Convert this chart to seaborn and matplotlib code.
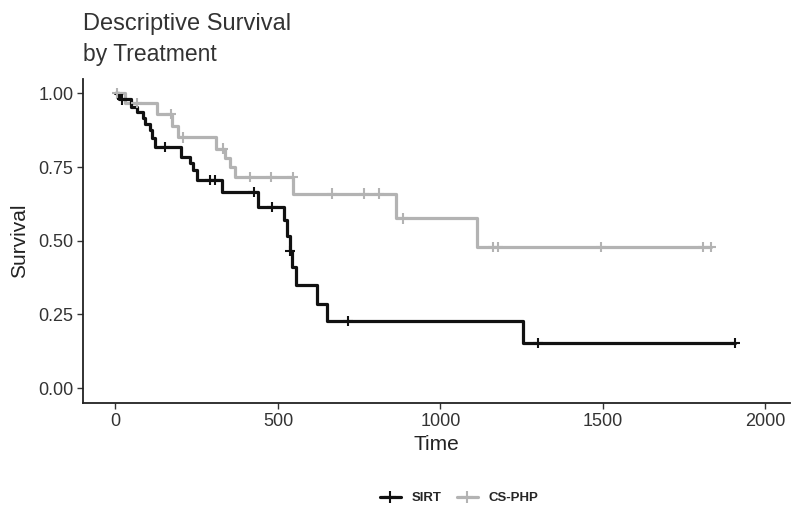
import pandas as pd
import seaborn as sns
import matplotlib.pyplot as plt
from matplotlib.lines import Line2D

# Kaplan-Meier step values
sirt_time = [0, 12, 48, 66, 84, 92, 106, 113, 122, 203, 228, 240, 250, 328, 438, 520, 529, 536, 544, 556, 621, 651, 1255, 1907]
sirt_surv = [1.00, 0.980, 0.955, 0.937, 0.918, 0.897, 0.876, 0.848, 0.818, 0.784, 0.764, 0.740, 0.706, 0.666, 0.615, 0.570, 0.516, 0.465, 0.410, 0.350, 0.287, 0.228, 0.154, 0.154]
sirt_cens_time = [20, 152, 290, 305, 425, 483, 538, 716, 1301, 1907]
sirt_cens_surv = [0.980, 0.818, 0.706, 0.706, 0.666, 0.615, 0.465, 0.228, 0.154, 0.154]

cs_time = [0, 30, 128, 174, 192, 308, 337, 352, 367, 547, 863, 1111, 1833]
cs_surv = [1.00, 0.968, 0.930, 0.890, 0.851, 0.813, 0.780, 0.750, 0.717, 0.660, 0.576, 0.479, 0.479]
cs_cens_time = [5, 65, 170, 207, 330, 413, 480, 545, 667, 765, 811, 884, 1163, 1176, 1493, 1809, 1833]
cs_cens_surv = [1.00, 0.968, 0.930, 0.851, 0.813, 0.717, 0.717, 0.717, 0.660, 0.660, 0.660, 0.576, 0.479, 0.479, 0.479, 0.479, 0.479]

groups = ["SIRT", "CS-PHP"]
colors = {"SIRT": "#111111", "CS-PHP": "#b3b3b3"}

x_ticks = [0, 500, 1000, 1500, 2000]
y_ticks = [0.0, 0.25, 0.5, 0.75, 1.0]
y_tick_labels = ["0.00", "0.25", "0.50", "0.75", "1.00"]

curves = pd.concat([
    pd.DataFrame({"Time": cs_time, "Survival": cs_surv, "Treatment": "CS-PHP"}),
    pd.DataFrame({"Time": sirt_time, "Survival": sirt_surv, "Treatment": "SIRT"}),
])
cens = pd.concat([
    pd.DataFrame({"Time": cs_cens_time, "Survival": cs_cens_surv, "Treatment": "CS-PHP"}),
    pd.DataFrame({"Time": sirt_cens_time, "Survival": sirt_cens_surv, "Treatment": "SIRT"}),
])

sns.set_theme(style="ticks")
plt.rcParams['font.family'] = ['Liberation Sans', 'DejaVu Sans']

fig, ax = plt.subplots(figsize=(7.93, 5.08), dpi=100)
fig.subplots_adjust(left=0.105, right=0.996, bottom=0.207, top=0.845)

sns.lineplot(data=curves, x="Time", y="Survival", hue="Treatment", palette=colors,
             drawstyle="steps-post", estimator=None, sort=False, linewidth=2.3,
             legend=False, ax=ax)
sns.scatterplot(data=cens, x="Time", y="Survival", hue="Treatment", palette=colors,
                marker="+", s=55, linewidth=1.5, legend=False, ax=ax, zorder=3)

ax.set_xlim(-99, 2075)
ax.set_ylim(-0.05, 1.05)
ax.set_xticks(x_ticks)
ax.set_yticks(y_ticks)
ax.set_yticklabels(y_tick_labels)
ax.tick_params(direction="out", length=4, width=1, color="#333333",
               labelsize=13, labelcolor="#333333", pad=3)
ax.set_xlabel("Time", fontsize=15, color="#222222", labelpad=4)
ax.set_ylabel("Survival", fontsize=15, color="#222222", labelpad=7)
sns.despine(ax=ax)
for s in ["left", "bottom"]:
    ax.spines[s].set_color("#222222")
    ax.spines[s].set_linewidth(1.3)

fig.text(83 / 793, 1 - 30 / 508, "Descriptive Survival", fontsize=17, color="#333333", va="baseline")
fig.text(83 / 793, 1 - 61 / 508, "by Treatment", fontsize=16.5, color="#333333", va="baseline")

handles = [Line2D([], [], color=colors[g], linewidth=2.3, marker="+", markersize=8, markeredgewidth=1.5)
           for g in groups]
fig.legend(handles, groups, loc="center", bbox_to_anchor=(459 / 793, 1 - 498 / 508), ncol=2,
           frameon=False, fontsize=9.5, handlelength=1.6, handletextpad=0.8, columnspacing=1.2,
           prop={"weight": "semibold", "size": 9.5})

fig.savefig("out.png", dpi=100)
